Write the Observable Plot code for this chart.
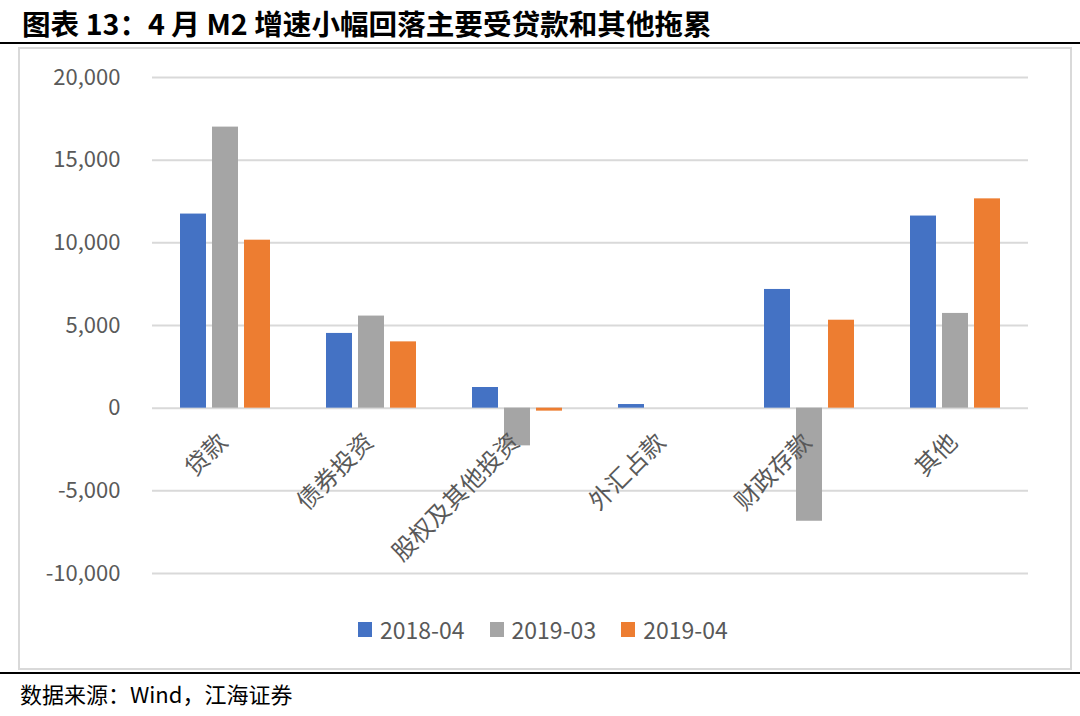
<!DOCTYPE html>
<html>
<head>
<meta charset="utf-8">
<script src="https://cdn.jsdelivr.net/npm/d3@7"></script>
<script src="https://cdn.jsdelivr.net/npm/@observablehq/plot@0.6"></script>
<style>
  html, body { margin: 0; padding: 0; background: #fff; }
  body { width: 1080px; height: 716px; position: relative; overflow: hidden; font-family: "Noto Sans CJK SC", "Noto Sans", sans-serif; }
  #title { position: absolute; left: 22px; top: 2px; font-size: 28.6px; font-weight: bold; color: #000; white-space: nowrap; }
  #topline { position: absolute; left: 0; top: 42px; width: 1080px; height: 0; border-top: 2px solid #000; }
  #frame { position: absolute; left: 18px; top: 47px; width: 1050px; height: 619px; border: 2px solid #d9d9d9; box-sizing: content-box; }
  #chart { position: absolute; left: 0; top: 47px; }
  #legend { position: absolute; top: 612px; left: 358px; display: flex; gap: 25px; font-size: 23px; color: #595959; white-space: nowrap; }
  #legend .item { display: flex; align-items: center; gap: 8px; }
  #legend .sw { width: 14px; height: 15px; display: inline-block; }
  #bottomline { position: absolute; left: 0; top: 672px; width: 1080px; height: 0; border-top: 2px solid #000; }
  #source { position: absolute; left: 20px; top: 677px; font-size: 22px; color: #000; white-space: nowrap; }
</style>
</head>
<body>
<div id="title">图表 13：4 月 M2 增速小幅回落主要受贷款和其他拖累</div>
<div id="topline"></div>
<div id="frame"></div>
<div id="chart"></div>
<div id="legend"></div>
<div id="bottomline"></div>
<div id="source">数据来源：Wind，江海证券</div>
<script>
const categories = ["贷款", "债券投资", "股权及其他投资", "外汇占款", "财政存款", "其他"];
const seriesNames = ["2018-04", "2019-03", "2019-04"];
const s201804 = [11740, 4520, 1250, 220, 7180, 11620];
const s201903 = [17000, 5570, -2280, 0, -6840, 5730];
const s201904 = [10160, 4010, -180, 0, 5320, 12660];
const yTicks = [-10000, -5000, 0, 5000, 10000, 15000, 20000];
const colors = ["#4472C4", "#A5A5A5", "#ED7D31"];

const seriesValues = [s201804, s201903, s201904];
const data = categories.flatMap((c, i) =>
  seriesNames.map((s, j) => ({category: c, series: s, value: seriesValues[j][i]}))
);

const chart = Plot.plot({
  width: 1080,
  height: 621,
  marginTop: 30,
  marginBottom: 95,
  marginLeft: 150,
  marginRight: 50,
  style: {fontFamily: "'Noto Sans CJK SC', 'Noto Sans', sans-serif", fontSize: "22px", color: "#595959", background: "transparent"},
  fx: {domain: categories, padding: 0, axis: null},
  x: {domain: seriesNames, paddingInner: 0.2, paddingOuter: 0.86, axis: null},
  y: {domain: [-10000, 20000], ticks: yTicks, tickFormat: d => d.toLocaleString("en-US"), tickSize: 0, tickPadding: 32, label: null},
  color: {domain: seriesNames, range: colors},
  marks: [
    Plot.ruleY(yTicks, {stroke: "#d9d9d9", strokeWidth: 2}),
    Plot.barY(data, {fx: "category", x: "series", y: "value", fill: "series"}),
    Plot.text(categories, {fx: d => d, text: d => d, y: 0, rotate: -45, textAnchor: "end", dx: -2, dy: 30, fontSize: 24, fill: "#595959"})
  ]
});
document.getElementById("chart").appendChild(chart);

const legend = document.getElementById("legend");
seriesNames.forEach((s, j) => {
  const item = document.createElement("div");
  item.className = "item";
  const sw = document.createElement("span");
  sw.className = "sw";
  sw.style.background = colors[j];
  const t = document.createElement("span");
  t.textContent = s;
  item.appendChild(sw);
  item.appendChild(t);
  legend.appendChild(item);
});
</script>
</body>
</html>
